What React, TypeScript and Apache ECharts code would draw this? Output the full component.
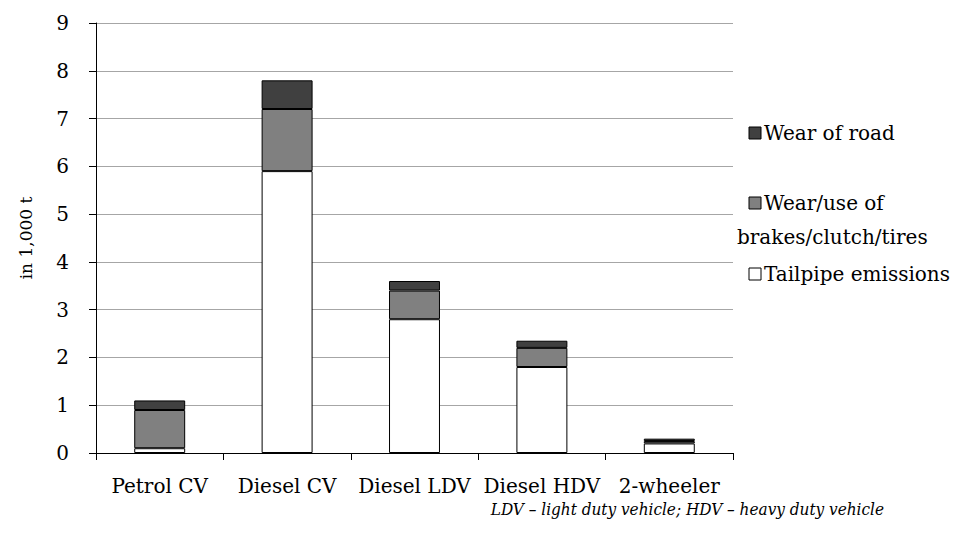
import React, { useEffect, useRef } from "react";
import * as echarts from "echarts";

const categories = ["Petrol CV", "Diesel CV", "Diesel LDV", "Diesel HDV", "2-wheeler"];
const tailpipe = [0.1, 5.9, 2.8, 1.8, 0.2];
const brakes = [0.8, 1.3, 0.6, 0.4, 0.05];
const road = [0.2, 0.6, 0.2, 0.15, 0.05];
const yTicks = [0, 9, 1];
const legendNames = ["Wear of road", "Wear/use of\nbrakes/clutch/tires", "Tailpipe emissions"];
const footnote = "LDV – light duty vehicle; HDV – heavy duty vehicle";
const yName = "in 1,000 t";

const FONT = "'DejaVu Serif', serif";
const FS = 20;

export default function App() {
  const ref = useRef<HTMLDivElement>(null);
  useEffect(() => {
    if (!ref.current) return;
    const chart = echarts.init(ref.current, undefined, { renderer: "svg" });
    const barStyle = (color: string) => ({ color, borderColor: "#000", borderWidth: 1 });
    const legendColors = ["#404040", "#808080", "#ffffff"];
    const legendY = [133, 203, 274];
    const graphic: any[] = [];
    legendNames.forEach((n, i) => {
      graphic.push({
        type: "rect",
        shape: { x: 749, y: legendY[i] - 6, width: 12, height: 12 },
        style: { fill: legendColors[i], stroke: "#000", lineWidth: 1 },
      });
      const lines = n.split("\n");
      lines.forEach((ln, j) => {
        graphic.push({
          type: "text",
          x: j === 0 ? 764 : 737,
          y: legendY[i] + j * 34,
          style: { text: ln, fontSize: FS, fontFamily: FONT, fill: "#000", verticalAlign: "middle", align: "left" },
        });
      });
    });
    graphic.push({
      type: "text",
      x: 884,
      y: 509,
      style: { text: footnote, fontSize: 17, fontStyle: "italic", fontFamily: "'DejaVu Serif Condensed', 'DejaVu Serif', serif", fill: "#000", align: "right", verticalAlign: "middle" },
    });
    chart.setOption({
      animation: false,
      backgroundColor: "#fff",
      textStyle: { fontFamily: FONT },
      grid: { left: 96, right: 221, top: 23, bottom: 88 },
      xAxis: {
        type: "category",
        data: categories,
        axisLine: { lineStyle: { color: "#000", width: 1 } },
        axisTick: { show: true, alignWithLabel: false, length: 7, lineStyle: { color: "#000" } },
        axisLabel: { color: "#000", fontSize: FS, fontFamily: FONT, margin: 23, interval: 0 },
      },
      yAxis: {
        type: "value",
        min: yTicks[0],
        max: yTicks[1],
        interval: yTicks[2],
        name: yName,
        nameLocation: "middle",
        nameGap: 62,
        nameTextStyle: { color: "#000", fontSize: 17, fontFamily: FONT },
        axisLine: { show: true, lineStyle: { color: "#000", width: 1 } },
        axisTick: { show: true, length: 7, lineStyle: { color: "#000" } },
        axisLabel: { color: "#000", fontSize: FS, fontFamily: FONT, margin: 27 },
        splitLine: { lineStyle: { color: "#a6a6a6", width: 1 } },
      },
      series: [
        { name: "Tailpipe emissions", type: "bar", stack: "s", data: tailpipe, barWidth: "40%", itemStyle: barStyle("#ffffff") },
        { name: "Wear/use of brakes/clutch/tires", type: "bar", stack: "s", data: brakes, barWidth: "40%", itemStyle: barStyle("#808080") },
        { name: "Wear of road", type: "bar", stack: "s", data: road, barWidth: "40%", itemStyle: barStyle("#404040") },
      ],
      graphic,
    });
    return () => chart.dispose();
  }, []);
  return <div ref={ref} style={{ width: 954, height: 541, position: "absolute", left: 0, top: 0 }} />;
}
